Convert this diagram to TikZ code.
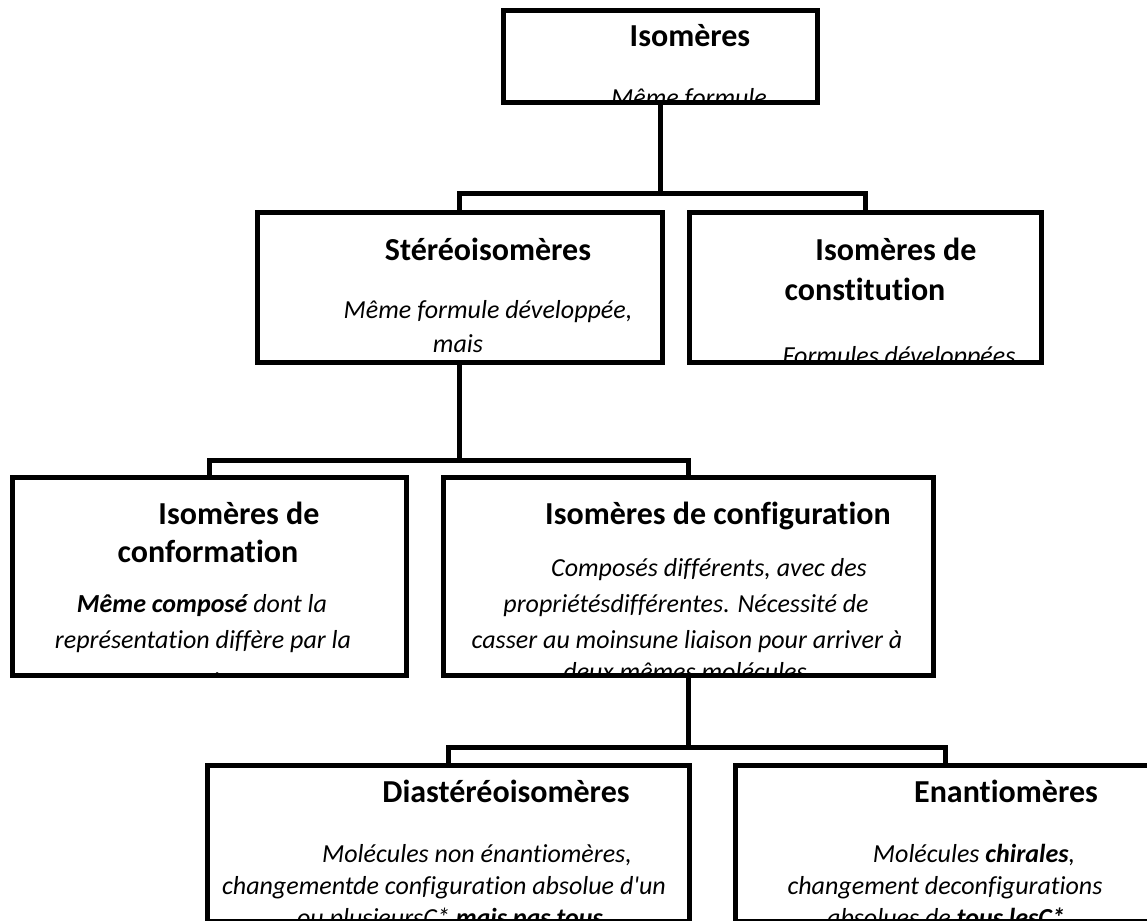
\documentclass[tikz,border=0pt]{standalone}
\usepackage{fontspec}
\setmainfont{Carlito}[Ligatures={NoCommon}]
\begin{document}
\begin{tikzpicture}[x=1pt,y=-1pt,
  box/.style={draw, line width=5pt, rectangle, inner sep=0pt, outer sep=0pt, anchor=north west},
  link/.style={line width=5pt},
  ttl/.style={font=\fontsize{32}{38}\selectfont\bfseries, anchor=base, inner sep=0pt},
  txt/.style={font=\fontsize{26}{35}\selectfont\itshape, anchor=base, inner sep=0pt}]
\clip (0,0) rectangle (1147,920);
\fill[white] (0,0) rectangle (1147,920);
% boxes
\node[box, minimum width=314pt, minimum height=92pt]  (top)     at (503,10.5) {};
\node[box, minimum width=405pt, minimum height=150pt] (stereo)  at (257,212) {};
\node[box, minimum width=352pt, minimum height=150pt] (constit) at (689,212) {};
\node[box, minimum width=394pt, minimum height=198pt] (conform) at (12,477)  {};
\node[box, minimum width=490pt, minimum height=198pt] (config)  at (443,477) {};
\node[box, minimum width=482pt, minimum height=156pt] (dia)     at (207,765) {};
\node[box, minimum width=420pt, minimum height=156pt] (enan)    at (735,765) {};
% connectors
\coordinate (j1) at (top.south |- 0,193);
\draw[link] (top.south) -- (j1);
\draw[link] (stereo.north) |- (j1) -| (constit.north);
\coordinate (j2) at (stereo.south |- 0,460);
\draw[link] (stereo.south) -- (j2);
\draw[link] (conform.north) |- (j2) -| (config.north);
\coordinate (j3) at (config.south |- 0,747);
\draw[link] (config.south) -- (j3);
\draw[link] (dia.north) |- (j3) -| (enan.north);
% texts
\begin{scope}
\clip ([shift={(2.5,2.5)}]top.north west) rectangle ([shift={(-2.5,-2.5)}]top.south east);
\node[ttl] (t1) at (690,47) {Isomères};
\node[txt] (t1b) at (689,107) {Même formule};
\end{scope}
\begin{scope}
\clip ([shift={(2.5,2.5)}]stereo.north west) rectangle ([shift={(-2.5,-2.5)}]stereo.south east);
\node[ttl] (t2) at (488,260) {Stéréoisomères};
\node[txt] (t2b) at (488,318) {Même formule développée,};
\node[txt] (t2c) at (458,352) {mais};
\end{scope}
\begin{scope}
\clip ([shift={(2.5,2.5)}]constit.north west) rectangle ([shift={(-2.5,-2.5)}]constit.south east);
\node[ttl] (t3) at (896,260) {Isomères de};
\node[ttl] (t3a) at (865,300) {constitution};
\node[txt] (t3b) at (899,364) {Formules développées};
\end{scope}
\begin{scope}
\clip ([shift={(2.5,2.5)}]conform.north west) rectangle ([shift={(-2.5,-2.5)}]conform.south east);
\node[ttl] (t4) at (239,524) {Isomères de};
\node[ttl] (t4a) at (208,562) {conformation};
\node[txt] (t4b) at (202,612) {\textbf{Même composé} dont la};
\node[txt] (t4c) at (203,648) {représentation diffère par la};
\node[txt] (t4d) at (203,690) {rotation};
\end{scope}
\begin{scope}
\clip ([shift={(2.5,2.5)}]config.north west) rectangle ([shift={(-2.5,-2.5)}]config.south east);
\node[ttl] (t5) at (718,524) {Isomères de configuration};
\node[txt] (t5b) at (709,576) {Composés différents, avec des};
\node[txt] (t5c) at (686,612) {propriétésdifférentes. Nécessité de};
\node[txt] (t5d) at (687,648) {casser au moinsune liaison pour arriver à};
\node[txt] (t5e) at (685,680) {deux mêmes molécules};
\end{scope}
\begin{scope}
\clip ([shift={(2.5,2.5)}]dia.north west) rectangle ([shift={(-2.5,-2.5)}]dia.south east);
\node[ttl] (t6) at (506,802) {Diastéréoisomères};
\node[txt] (t6b) at (477,862) {Molécules non énantiomères,};
\node[txt] (t6c) at (444,894) {changementde configuration absolue d\textquotesingle un};
\node[txt] (t6d) at (450,926) {ou plusieursC* \textbf{mais pas tous}};
\end{scope}
\begin{scope}
\clip ([shift={(2.5,2.5)}]enan.north west) rectangle ([shift={(-2.5,-2.5)}]enan.south east);
\node[ttl] (t7) at (1006,802) {Enantiomères};
\node[txt] (t7b) at (974,862) {Molécules \textbf{chirales},};
\node[txt] (t7c) at (945,894) {changement deconfigurations};
\node[txt] (t7d) at (946,926) {absolues de \textbf{tous lesC*}};
\end{scope}
\end{tikzpicture}
\end{document}
